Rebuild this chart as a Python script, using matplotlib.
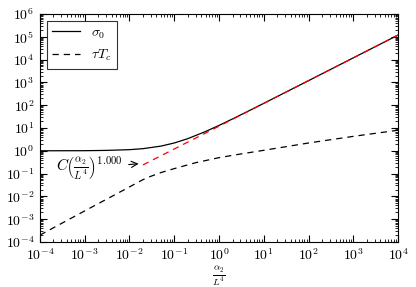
import matplotlib
matplotlib.use('Agg')
import matplotlib.pyplot as plt
from matplotlib.ticker import LogLocator, NullFormatter

plt.rcParams['mathtext.fontset'] = 'cm'
plt.rcParams['font.family'] = 'serif'
plt.rcParams['font.serif'] = ['cmr10', 'DejaVu Serif']
plt.rcParams['axes.formatter.use_mathtext'] = True

# values
alpha = [1e-4, 1e-3, 3e-3, 1e-2, 2e-2, 5e-2, 1e-1, 2e-1, 5e-1,
         1e0, 2e0, 5e0, 1e1, 1e2, 1e3, 1e4]
sigma0 = [1.0, 1.01, 1.04, 1.12, 1.24, 1.6, 2.2, 3.4, 7.0,
          13.0, 25.0, 61.0, 121.0, 1.2e3, 1.2e4, 1.2e5]

alpha_tau = [1e-4, 1e-3, 5e-3, 1e-2, 1.5e-2, 2e-2, 3e-2, 5e-2, 1e-1,
             3e-1, 1e0, 3e0, 1e1, 1e2, 1e3, 1e4]
tau_tc = [2.0e-4, 2.3e-3, 1.25e-2, 2.6e-2, 4.0e-2, 5.4e-2, 7.6e-2, 0.11, 0.165,
          0.30, 0.50, 0.72, 1.05, 2.2, 4.3, 8.0]

fit_alpha = [2e-2, 1e4]
fit_C = 12.0
fit_exp = 1.000
fit_vals = [fit_C * a ** fit_exp for a in fit_alpha]

fig = plt.figure(figsize=(4.16, 2.87), dpi=100)
ax = fig.add_axes([0.096, 0.157, 0.861, 0.794])

ax.loglog(alpha, sigma0, 'k-', lw=0.9, label=r'$\sigma_0$')
ax.loglog(alpha_tau, tau_tc, 'k--', lw=0.9, dashes=(5, 4), label=r'$\tau T_c$')
ax.loglog(fit_alpha, fit_vals, 'r--', lw=0.9, dashes=(5, 4))

ax.annotate(r'$C\left(\frac{\alpha_2}{L^4}\right)^{%.3f}$' % fit_exp,
            xy=(0.016, 0.27), xytext=(1.3e-3, 0.18),
            ha='center', va='center', fontsize=11,
            arrowprops=dict(arrowstyle='->', color='k', lw=0.8,
                            shrinkA=2, shrinkB=0))

ax.set_xlim(1e-4, 1e4)
ax.set_ylim(1e-4, 1e6)
for axis in (ax.xaxis, ax.yaxis):
    axis.set_major_locator(LogLocator(base=10, numticks=30))
    axis.set_minor_locator(LogLocator(base=10, subs=[2, 3, 4, 5, 6, 7, 8, 9], numticks=30))
    axis.set_minor_formatter(NullFormatter())

ax.set_xlabel(r'$\frac{\alpha_2}{L^4}$', fontsize=10, labelpad=1)
ax.tick_params(which='both', direction='in', top=True, right=True, labelsize=10)
ax.tick_params(which='major', length=5, pad=4)
ax.tick_params(which='minor', length=2.5)

leg = ax.legend(loc='upper left', fancybox=False, edgecolor='k', fontsize=10,
                handlelength=2.0)
leg.get_frame().set_linewidth(0.8)

fig.savefig('out.png', dpi=100)
